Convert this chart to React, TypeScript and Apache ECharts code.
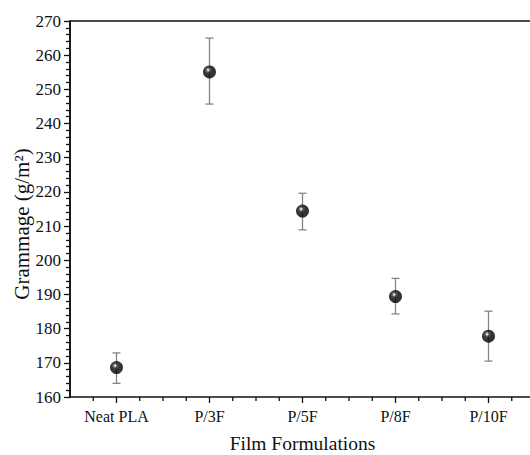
import React, { useEffect, useRef } from "react";
import * as echarts from "echarts";

const categories = ["Neat PLA", "P/3F", "P/5F", "P/8F", "P/10F"];
const positions = [1, 2, 3, 4, 5];
const means = [168.6, 255.1, 214.4, 189.4, 177.8];
const errLow = [164.0, 245.7, 208.9, 184.3, 170.5];
const errHigh = [172.9, 265.0, 219.6, 194.7, 185.1];
const minorXTicks = [0.75, 1.25, 1.5, 1.75, 2.25, 2.5, 2.75, 3.25, 3.5, 3.75, 4.25, 4.5, 4.75, 5.25];
const minorYTicks = [162, 164, 166, 168, 172, 174, 176, 178, 182, 184, 186, 188, 192, 194, 196, 198, 202, 204, 206, 208, 212, 214, 216, 218, 222, 224, 226, 228, 232, 234, 236, 238, 242, 244, 246, 248, 252, 254, 256, 258, 262, 264, 266, 268];
const Y_MIN = 160;
const Y_MAX = 270;

const FONT = "Liberation Serif";
const INK = "#111";

export default function App() {
  const ref = useRef<HTMLDivElement>(null);
  useEffect(() => {
    if (!ref.current) return;
    const chart = echarts.init(ref.current, undefined, { renderer: "svg" });
    const axisLine = { show: true, lineStyle: { color: INK, width: 1.6 } };
    const option: any = {
      animation: false,
      backgroundColor: "#ffffff",
      grid: { left: 70, right: 5, top: 21, bottom: 58, containLabel: false, outerBoundsMode: "none" },
      xAxis: [
        {
          type: "value",
          position: "bottom",
          min: 0.5,
          max: 5.5,
          axisLine,
          splitLine: { show: false },
          axisTick: { show: true, inside: false, length: 6, customValues: positions, lineStyle: { color: INK, width: 1.3 } },
          axisLabel: {
            customValues: positions,
            formatter: (v: number) => categories[Math.round(v) - 1] ?? "",
            fontFamily: FONT,
            fontSize: 16,
            color: INK,
            margin: 11,
          },
          name: "Film Formulations",
          nameLocation: "middle",
          nameGap: 36,
          nameMoveOverlap: false,
          nameTextStyle: { fontFamily: FONT, fontSize: 19.5, color: INK, lineHeight: 20 },
        },
        {
          type: "value",
          position: "top",
          min: 0.5,
          max: 5.5,
          axisLine,
          splitLine: { show: false },
          axisTick: { show: false },
          axisLabel: { show: false },
        },
      ],
      yAxis: [
        {
          type: "value",
          position: "left",
          min: Y_MIN,
          max: Y_MAX,
          interval: 10,
          axisLine,
          splitLine: { show: false },
          axisTick: { show: true, inside: false, length: 6, lineStyle: { color: INK, width: 1.3 } },
          axisLabel: { fontFamily: FONT, fontSize: 17, color: INK, margin: 9 },
          name: "Grammage (g/m²)",
          nameLocation: "middle",
          nameGap: 38,
          nameRotate: 90,
          nameMoveOverlap: false,
          nameTextStyle: { fontFamily: FONT, fontSize: 21, color: INK, padding: [0, 30, 0, 0] },
        },
        {
          type: "value",
          position: "left",
          offset: 0,
          min: Y_MIN,
          max: Y_MAX,
          axisLine: { show: true, lineStyle: { color: INK, width: 1.6 } },
          splitLine: { show: false },
          axisTick: { show: true, inside: false, length: 4, customValues: minorYTicks, lineStyle: { color: INK, width: 1.3 } },
          axisLabel: { show: false },
        },
      ],
      series: [
        {
          type: "custom",
          xAxisIndex: 0,
          yAxisIndex: 0,
          clip: false,
          silent: true,
          z: 5,
          data: minorXTicks.map((v) => [v, Y_MIN]),
          renderItem: (params: any, api: any) => {
            const p = api.coord([api.value(0), api.value(1)]);
            return {
              type: "line",
              shape: { x1: p[0], y1: p[1], x2: p[0], y2: p[1] + 4 },
              style: { stroke: INK, lineWidth: 1.3 },
            };
          },
        },
        {
          type: "custom",
          xAxisIndex: 0,
          yAxisIndex: 0,
          z: 2,
          data: positions.map((p, i) => [p, errLow[i], errHigh[i]]),
          renderItem: (params: any, api: any) => {
            const x = api.value(0);
            const lo = api.coord([x, api.value(1)]);
            const hi = api.coord([x, api.value(2)]);
            const hw = 4;
            const style = { stroke: "#858585", lineWidth: 1.3 };
            return {
              type: "group",
              children: [
                { type: "line", shape: { x1: lo[0], y1: lo[1], x2: hi[0], y2: hi[1] }, style },
                { type: "line", shape: { x1: hi[0] - hw, y1: hi[1], x2: hi[0] + hw, y2: hi[1] }, style },
                { type: "line", shape: { x1: lo[0] - hw, y1: lo[1], x2: lo[0] + hw, y2: lo[1] }, style },
              ],
            };
          },
        },
        {
          type: "scatter",
          xAxisIndex: 0,
          yAxisIndex: 0,
          z: 3,
          symbol: "circle",
          symbolSize: 13,
          data: positions.map((p, i) => [p, means[i]]),
          itemStyle: {
            color: {
              type: "radial",
              x: 0.4,
              y: 0.35,
              r: 0.6,
              colorStops: [
                { offset: 0, color: "#ffffff" },
                { offset: 0.1, color: "#c8c8c8" },
                { offset: 0.28, color: "#2a2a2a" },
                { offset: 0.55, color: "#000000" },
                { offset: 1, color: "#000000" },
              ],
            },
          },
        },
      ],
    };
    chart.setOption(option);
    return () => chart.dispose();
  }, []);
  return (
    <div style={{ position: "absolute", left: 0, top: 0, width: 530, height: 455, overflow: "hidden", background: "#fff" }}>
      <div ref={ref} style={{ width: 540, height: 455 }} />
    </div>
  );
}
